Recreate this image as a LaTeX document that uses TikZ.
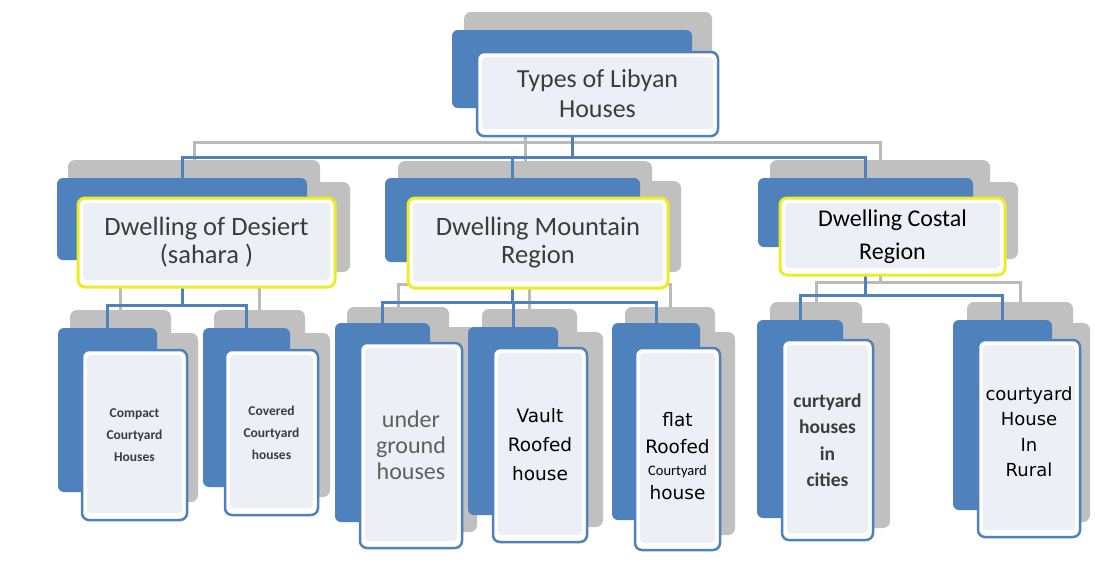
\documentclass[tikz,border=0pt]{standalone}
\usepackage{fontspec}
\setmainfont{Carlito}
\newfontfamily\dejavu{DejaVu Sans}
\definecolor{blueC}{RGB}{79,129,189}
\definecolor{shadeC}{RGB}{192,192,192}
\definecolor{glineC}{RGB}{186,186,186}
\definecolor{yellowC}{RGB}{236,236,40}
\definecolor{innerC}{RGB}{236,240,246}
\definecolor{textC}{RGB}{60,60,60}
\definecolor{softC}{RGB}{95,95,95}
% box from corner (x1,y1) to corner (x2,y2), in pixel-like units
\newcommand\bx[7]{\node[#1, minimum width={(#5-#3)*1pt}, minimum height={(#6-#4)*1pt}] (#2) at ({(#3+#5)/2},{(#4+#6)/2}) {#7};}
\begin{document}
\begin{tikzpicture}[x=1pt,y=-1pt,
  shade/.style={fill=shadeC, rounded corners=7pt, inner sep=0pt},
  back/.style={fill=blueC, rounded corners=6pt, inner sep=0pt},
  front/.style={draw=blueC, line width=2.5pt, fill=white, rounded corners=7pt, inner sep=0pt, align=center,
    path picture={\fill[innerC, rounded corners=4pt] ([shift={(5pt,-5pt)}]path picture bounding box.north west) rectangle ([shift={(-5pt,7pt)}]path picture bounding box.south east);}},
  group/.style={front, draw=yellowC, line width=3pt},
  bline/.style={draw=blueC, line width=3pt},
  gline/.style={draw=glineC, line width=3pt},
  toptext/.style={font=\fontsize{26}{30}\selectfont, text=textC},
  midtext/.style={font=\fontsize{26.5}{28}\selectfont, text=textC},
  smalltext/.style={font=\bfseries\fontsize{13.5}{22}\selectfont, text=textC},
]
\useasboundingbox (0,0) rectangle (1095,574);
\fill[white] (0,0) rectangle (1095,574);

% ---------- grey depth copies ----------
\bx{shade}{topS}{464}{12}{712}{95}{}
\bx{shade}{desS}{68}{160}{320}{240}{}
\bx{shade}{desT}{92}{182}{350}{272}{}
\bx{shade}{monS}{398}{161}{652}{243}{}
\bx{shade}{monT}{421}{181}{681}{272}{}
\bx{shade}{cosS}{770}{160}{990}{230}{}
\bx{shade}{cosT}{793}{182}{1018}{259}{}
\bx{shade}{cmpS}{70}{310}{171}{474}{}
\bx{shade}{cmpT}{95}{333}{198}{502}{}
\bx{shade}{covS}{214}{310}{305}{470}{}
\bx{shade}{covT}{238}{333}{330}{497}{}
\bx{shade}{undS}{347}{307}{449}{505}{}
\bx{shade}{undT}{373}{327}{477}{532}{}
\bx{shade}{vauS}{482}{309}{577}{498}{}
\bx{shade}{vauT}{507}{332}{603}{527}{}
\bx{shade}{flaS}{625}{307}{715}{503}{}
\bx{shade}{flaT}{650}{332}{735}{535}{}
\bx{shade}{citS}{770}{302}{862}{500}{}
\bx{shade}{citT}{796}{323}{890}{528}{}
\bx{shade}{rurS}{967}{302}{1073}{493}{}
\bx{shade}{rurT}{992}{323}{1090}{522}{}

% ---------- blue rectangles ----------
\bx{back}{topB}{452}{30}{692}{108}{}
\bx{back}{desB}{57}{178}{307}{260}{}
\bx{back}{monB}{385}{178}{640}{262}{}
\bx{back}{cosB}{758}{178}{973}{247}{}
\bx{back}{cmpB}{58}{328}{157}{492}{}
\bx{back}{covB}{203}{328}{290}{487}{}
\bx{back}{undB}{335}{323}{430}{522}{}
\bx{back}{vauB}{468}{327}{558}{515}{}
\bx{back}{flaB}{612}{323}{700}{520}{}
\bx{back}{citB}{757}{320}{843}{518}{}
\bx{back}{rurB}{953}{320}{1052}{510}{}

% ---------- bus levels ----------
\coordinate (gbus1) at (0,142);
\coordinate (bbus1) at (0,157);
\coordinate (gbusD) at (0,284);
\coordinate (bbusD) at (0,305);
\coordinate (gbusM) at (0,284);
\coordinate (bbusM) at (0,302);
\coordinate (gbusC) at (0,282);
\coordinate (bbusC) at (0,295);

% ---------- grey connectors ----------
\draw[gline] (desS.north) -- (desS.north |- gbus1) -| (cosS.north);
\draw[gline] (monS.north) -- (monS.north |- topB.south);
\draw[gline] (desS.south) -- (desS.south |- gbusD) -| (cmpS.north);
\draw[gline] (desS.south |- gbusD) -| (covS.north);
\draw[gline] (monS.south) -- (monS.south |- gbusM) -| (undS.north);
\draw[gline] (monS.south |- gbusM) -| (vauS.north);
\draw[gline] (monS.south |- gbusM) -| (flaS.north);
\draw[gline] (cosS.south) -- (cosS.south |- gbusC) -| (citS.north);
\draw[gline] (cosS.south |- gbusC) -| (rurS.north);

% ---------- blue connectors ----------
\draw[bline] (topB.south) -- (topB.south |- bbus1) -| (desB.north);
\draw[bline] (topB.south |- bbus1) -| (monB.north);
\draw[bline] (topB.south |- bbus1) -| (cosB.north);
\draw[bline] (desB.south) -- (desB.south |- bbusD) -| (cmpB.north);
\draw[bline] (desB.south |- bbusD) -| (covB.north);
\draw[bline] (monB.south) -- (monB.south |- bbusM) -| (undB.north);
\draw[bline] (monB.south |- bbusM) -| (vauB.north);
\draw[bline] (monB.south |- bbusM) -| (flaB.north);
\draw[bline] (cosB.south) -- (cosB.south |- bbusC) -| (citB.north);
\draw[bline] (cosB.south |- bbusC) -| (rurB.north);

% ---------- labelled boxes ----------
\bx{front,toptext}{topW}{477}{52}{718}{136}{Types of Libyan\\Houses}
\bx{group,midtext}{desW}{78}{198}{335}{287}{Dwelling of Desiert\\(sahara )}
\bx{group,midtext}{monW}{408}{198}{668}{288}{Dwelling Mountain\\Region}
\bx{group,midtext,text=black,font=\fontsize{24}{33}\selectfont}{cosW}{780}{198}{1005}{275}{Dwelling Costal\\Region}
\bx{front,smalltext}{cmpW}{82}{350}{187}{520}{Compact\\Courtyard\\Houses}
\bx{front,smalltext}{covW}{225}{350}{318}{515}{Covered\\Courtyard\\houses}
\bx{front,text=softC,font=\fontsize{24}{26}\selectfont}{undW}{360}{343}{462}{548}{under\\ground\\houses}
\bx{front,text=black,font=\dejavu\fontsize{18.5}{29}\selectfont}{vauW}{493}{348}{587}{542}{Vault\\Roofed\\house}
\bx{front,text=black,font=\dejavu\fontsize{18.5}{27}\selectfont}{flaW}{635}{348}{720}{550}{\rule{0pt}{28pt}flat\\Roofed\\[-5pt]{\rmfamily\fontsize{14.5}{16}\selectfont Courtyard}\\[-3pt]house}
\bx{front,text=textC,font=\bfseries\fontsize{19.5}{26.5}\selectfont}{citW}{782}{340}{873}{540}{curtyard\\houses\\in\\cities}
\bx{front,text=black,font=\dejavu\fontsize{18}{25.5}\selectfont}{rurW}{978}{340}{1080}{537}{courtyard\\House\\In\\Rural\\[-12pt]}
\end{tikzpicture}
\end{document}
